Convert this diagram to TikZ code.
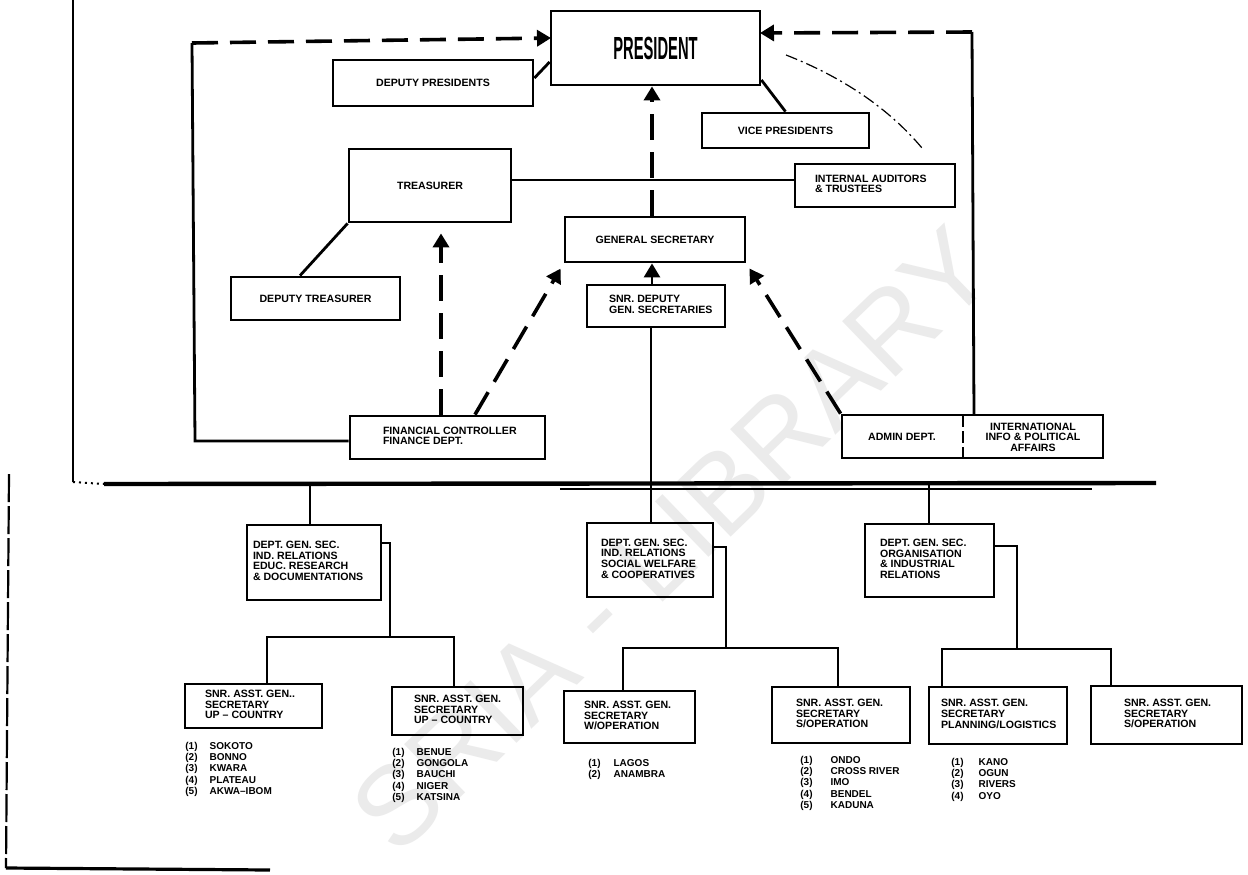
\documentclass[tikz,border=0pt]{standalone}
\usepackage{fontspec}
\setmainfont{Liberation Sans}
\usetikzlibrary{arrows.meta,calc}
\newcommand{\fsz}{\fontsize{5.3}{5.3}\selectfont\bfseries}
\newcommand{\lfsz}{\fontsize{5.0}{5.65}\selectfont\bfseries}
\tikzset{
  box/.style={draw, line width=1.4pt, inner sep=0pt, font=\fsz},
  conn/.style={line width=1.4pt},
  dconn/.style={line width=1.8pt, dash pattern=on 13pt off 6pt},
  arr/.style={-{Triangle[length=7pt,width=8pt]}},
  lst/.style={anchor=north west, inner sep=0pt, font=\lfsz},
  plain/.style={inner sep=0pt, font=\fsz},
}
\newcommand{\CBox}[6]{%
  \pgfmathsetmacro{\myW}{(#4-#2)/2}%
  \pgfmathsetmacro{\myH}{(#5-#3)/2}%
  \node[box, minimum width=\myW pt, minimum height=\myH pt] (#1) at ({(#2+#4)/2},{(#3+#5)/2}) {#6};}
\newcommand{\LBox}[7]{%
  \pgfmathsetmacro{\myW}{(#4-#2)/2}%
  \pgfmathsetmacro{\myH}{(#5-#3)/2}%
  \pgfmathsetmacro{\myT}{(#4-#2)/2-#6}%
  \node[box, minimum width=\myW pt, minimum height=\myH pt] (#1) at ({(#2+#4)/2},{(#3+#5)/2})
    {\makebox[\myT pt][l]{\begin{tabular}{@{}l@{}}#7\end{tabular}}};}
\begin{document}
\begin{tikzpicture}[x=0.5pt,y=-0.5pt]
\useasboundingbox (0,0) rectangle (1248,874);
\fill[white] (0,0) rectangle (1248,874);
% watermark
\node[rotate=44, text=black!8, font=\fontsize{56}{56}\selectfont] (wm) at (672,540) {SRIA - LIBRARY};

% frames
\coordinate (fL1) at (73,0);
\coordinate (fL2) at (73,482);
\coordinate (barL) at (104,484);
\coordinate (barR) at (1156,483);
\coordinate (bar2L) at (560,489);
\coordinate (bar2R) at (1092,489);
\coordinate (fB1) at (9,474);
\coordinate (fB2) at (6,868);
\coordinate (fB3) at (270,870);
\draw[line width=1.3pt] (fL1) -- (fL2);
\draw[line width=1pt, dotted] (fL2) -- (barL);
\draw[line width=2.2pt] (barL) -- (barR);
\draw[line width=0.8pt] (bar2L) -- (bar2R);
\draw[line width=1.1pt, dash pattern=on 14pt off 2pt] (fB1) -- (fB2);
\draw[line width=1.6pt] (fB2) -- (fB3);

% top boxes
\CBox{pres}{551}{11}{760}{85}{\fontsize{16}{16}\selectfont\scalebox{0.46}[1]{PRESIDENT}}
\CBox{dpres}{333}{60}{533}{106}{DEPUTY PRESIDENTS}
\CBox{vpres}{702}{113}{869}{148}{VICE PRESIDENTS}
\CBox{treas}{349}{149}{511}{222}{TREASURER}
\LBox{ia}{795}{164}{955}{207}{20}{INTERNAL AUDITORS\\\& TRUSTEES}
\CBox{gs}{565}{217}{745}{262}{GENERAL SECRETARY}
\CBox{dtreas}{231}{277}{400}{320}{DEPUTY TREASURER}
\LBox{snrdep}{587}{285}{725}{327}{22}{SNR. DEPUTY\\GEN. SECRETARIES}
\LBox{fc}{350}{416}{545}{459}{33}{FINANCIAL CONTROLLER\\FINANCE DEPT.}
\CBox{adminbox}{842}{415}{1103}{458}{}
\node[plain] (admin) at (902,437) {ADMIN DEPT.};
\node[plain, align=center] (intl) at (1033,437) {INTERNATIONAL\\INFO \& POLITICAL\\AFFAIRS};
\coordinate (dv1) at (963,415);
\coordinate (dv2) at (963,458);
\draw[line width=1.4pt, dash pattern=on 6pt off 2pt] (dv1) -- (dv2);

% top connectors
\coordinate (lc1) at (195,441);
\coordinate (lc2) at (192,43);
\coordinate (pl) at (551,38);
\draw[conn] (fc.west |- lc1) -- (lc1) -- (lc2);
\draw[dconn, arr] (lc2) -- (pl);
\coordinate (rc1) at (974,415);
\coordinate (rc2) at (972,32);
\coordinate (pr) at (760,33);
\draw[conn] (rc1) -- (rc2);
\draw[dconn, arr] (rc2) -- (pr);
\draw[conn] (dpres.east |- 0,78) -- (pres.west |- 0,62);
\draw[conn] (pres.east |- 0,80) -- (vpres.north);
\draw[conn] (treas.east |- 0,180) -- (ia.west |- 0,180);
\draw[conn] (treas.south west) -- (dtreas.north -| 300,0);
\draw[dconn, arr, shorten >=5pt] (fc.north -| 441,0) -- (treas.south -| 441,0);
\draw[dconn, arr, shorten >=3pt] (fc.north -| 475,0) -- (gs.south west);
\draw[dconn, arr] (gs.north -| 652,0) -- (pres.south -| 652,0);
\draw[conn, arr] (snrdep.north -| 652,0) -- (gs.south -| 652,0);
\draw[dconn, arr, shorten >=3pt] (adminbox.north west) -- (gs.south east);
\coordinate (fz1) at (786,55);
\coordinate (fz2) at (922,148);
\draw[line width=0.6pt, dash pattern=on 6pt off 2pt on 1pt off 2pt] (fz1) .. controls (845,78) and (890,110) .. (fz2);

% bus to bar
\coordinate (t1) at (310,484);
\coordinate (t2) at (651,484);
\coordinate (t3) at (929,484);
\draw[conn] (snrdep.south -| t2) -- (t2);

% department boxes
\LBox{d1}{247}{525}{381}{600}{6}{DEPT. GEN. SEC.\\IND. RELATIONS\\EDUC. RESEARCH\\\& DOCUMENTATIONS}
\LBox{d2}{587}{523}{713}{597}{14}{DEPT. GEN. SEC.\\IND. RELATIONS\\SOCIAL WELFARE\\\& COOPERATIVES}
\LBox{d3}{865}{524}{994}{597}{15}{DEPT. GEN. SEC.\\ORGANISATION\\\& INDUSTRIAL\\RELATIONS}
\draw[conn] (t1) -- (d1.north -| t1);
\draw[conn] (t2) -- (d2.north -| t2);
\draw[conn] (t3) -- (d3.north -| t3);

% sub boxes
\LBox{c1}{185}{684}{322}{728}{20}{SNR. ASST. GEN..\\SECRETARY\\UP – COUNTRY}
\LBox{c2}{392}{687}{523}{735}{22}{SNR. ASST. GEN.\\SECRETARY\\UP – COUNTRY}
\LBox{c3}{564}{691}{695}{743}{20}{SNR. ASST. GEN.\\SECRETARY\\W/OPERATION}
\LBox{c4}{772}{687}{910}{743}{24}{SNR. ASST. GEN.\\SECRETARY\\S/OPERATION}
\LBox{c5}{929}{687}{1067}{744}{12}{SNR. ASST. GEN.\\SECRETARY\\PLANNING/LOGISTICS}
\LBox{c6}{1091}{686}{1242}{744}{33}{SNR. ASST. GEN.\\SECRETARY\\S/OPERATION}

% branch connectors
\coordinate (j1) at (390,637);
\coordinate (j1l) at (267,637);
\coordinate (j1r) at (454,637);
\coordinate (j2) at (726,648);
\coordinate (j2l) at (623,648);
\coordinate (j2r) at (838,648);
\coordinate (j3) at (1017,649);
\coordinate (j3l) at (942,649);
\coordinate (j3r) at (1111,649);
\draw[conn] (d1.east |- 0,543) -| (j1);
\draw[conn] (c1.north -| j1l) -- (j1l) -- (j1r) -- (c2.north -| j1r);
\draw[conn] (d2.east |- 0,547) -| (j2);
\draw[conn] (c3.north -| j2l) -- (j2l) -- (j2r) -- (c4.north -| j2r);
\draw[conn] (d3.east |- 0,546) -| (j3);
\draw[conn] (c5.north -| j3l) -- (j3l) -- (j3r) -- (c6.north -| j3r);

% lists
\node[lst] (l1) at (185,741) {\begin{tabular}{@{}l@{\hspace{6pt}}l@{}}(1)&SOKOTO\\(2)&BONNO\\(3)&KWARA\\(4)&PLATEAU\\(5)&AKWA–IBOM\end{tabular}};
\node[lst] (l2) at (392,747) {\begin{tabular}{@{}l@{\hspace{6pt}}l@{}}(1)&BENUE\\(2)&GONGOLA\\(3)&BAUCHI\\(4)&NIGER\\(5)&KATSINA\end{tabular}};
\node[lst] (l3) at (588,758) {\begin{tabular}{@{}l@{\hspace{6.5pt}}l@{}}(1)&LAGOS\\(2)&ANAMBRA\end{tabular}};
\node[lst] (l4) at (800,755) {\begin{tabular}{@{}l@{\hspace{9pt}}l@{}}(1)&ONDO\\(2)&CROSS RIVER\\(3)&IMO\\(4)&BENDEL\\(5)&KADUNA\end{tabular}};
\node[lst] (l5) at (951,757) {\begin{tabular}{@{}l@{\hspace{7.5pt}}l@{}}(1)&KANO\\(2)&OGUN\\(3)&RIVERS\\(4)&OYO\end{tabular}};
\end{tikzpicture}
\end{document}
